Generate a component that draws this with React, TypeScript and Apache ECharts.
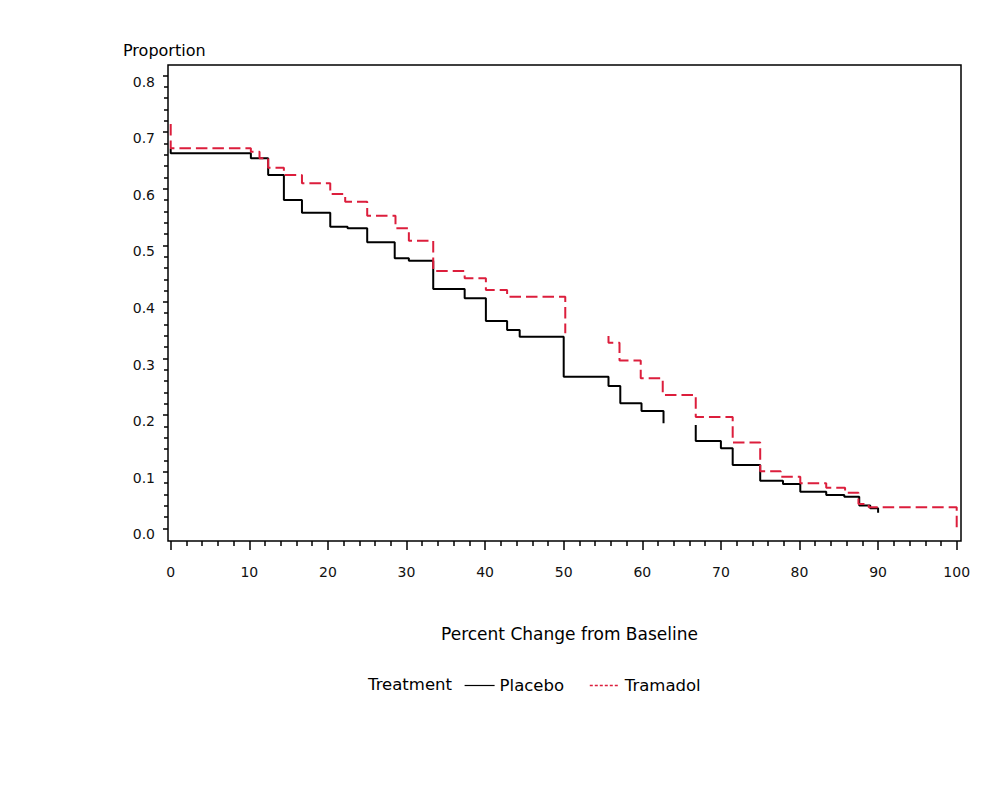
import React, { useEffect, useRef } from "react";
import * as echarts from "echarts";

// X ticks: 0..100 step 10; Y ticks: 0.0..0.8 step 0.1
const xMin = 0;
const xMax = 100;
const xStep = 10;
const yMin = 0;
const yMax = 0.8;
const yStep = 0.1;

// Step curves: each point starts a new level (null = gap in curve)
const placeboX = [0, 0, 10.2, 12.4, 14.4, 16.7, 20.3, 22.5, 25.0, 28.5, 30.3, 33.4, 37.4, 40.1, 42.8, 44.4, 50.0, 55.7, 57.2, 59.9, 62.7, 62.7, 66.8, 66.8, 70.0, 71.5, 75.0, 77.9, 80.1, 83.4, 85.7, 87.6, 89.0, 90.0];
const placeboY = [0.671, 0.6625, 0.6537, 0.6242, 0.58, 0.5576, 0.5329, 0.53, 0.5053, 0.477, 0.4728, 0.4228, 0.4064, 0.3663, 0.3504, 0.3385, 0.2678, 0.2514, 0.2208, 0.2072, 0.1855, null, 0.1825, 0.1542, 0.1413, 0.1118, 0.0841, 0.0783, 0.0647, 0.0588, 0.0558, 0.0403, 0.0353, 0.0276];

const tramadolX = [0, 0, 10.2, 11.3, 12.4, 14.4, 16.7, 20.3, 22.2, 25.0, 28.6, 30.3, 33.4, 37.4, 40.1, 42.8, 50.2, 50.2, 55.7, 55.7, 57.1, 59.8, 62.6, 66.8, 71.5, 75.0, 77.6, 80.1, 83.4, 85.8, 87.5, 88.8, 100];
const tramadolY = [0.7143, 0.6714, 0.6654, 0.6537, 0.6371, 0.6242, 0.6095, 0.5906, 0.577, 0.5523, 0.53, 0.5081, 0.4546, 0.4417, 0.421, 0.4092, 0.3445, null, 0.3398, 0.3279, 0.2965, 0.265, 0.2355, 0.1966, 0.1516, 0.1007, 0.0912, 0.0795, 0.0717, 0.0629, 0.0429, 0.0371, 0];

const seriesNames = ["Placebo", "Tramadol"];
const legendTitle = "Treatment";
const xAxisTitle = "Percent Change from Baseline";
const yAxisTitle = "Proportion";

const toPairs = (xs: number[], ys: (number | null)[]) =>
  xs.map((x, i) => (ys[i] === null ? [x, "-"] : [x, ys[i]]));

export default function App() {
  const ref = useRef<HTMLDivElement>(null);

  useEffect(() => {
    if (!ref.current) return;
    const chart = echarts.init(ref.current, undefined, { renderer: "svg" });
    const font = "DejaVu Sans";
    const option: any = {
      animation: false,
      backgroundColor: "#ffffff",
      grid: { left: 170.7, right: 43.3, top: 75.5, bottom: 271.7, containLabel: false },
      xAxis: {
        type: "value",
        min: xMin,
        max: xMax,
        interval: xStep,
        offset: 12.7,
        axisLine: { show: false, onZero: false },
        axisTick: { show: true, length: 9, lineStyle: { color: "#000", width: 1.5 } },
        minorTick: { show: true, splitNumber: 5, length: 5, lineStyle: { color: "#000", width: 1.5 } },
        splitLine: { show: false },
        minorSplitLine: { show: false },
        axisLabel: { margin: 24, fontFamily: font, fontSize: 14, color: "#111" },
      },
      yAxis: {
        type: "value",
        min: yMin,
        max: yMax,
        interval: yStep,
        offset: 2.7,
        axisLine: { show: false, onZero: false },
        axisTick: { show: true, length: 5, lineStyle: { color: "#000", width: 1.5 } },
        minorTick: { show: true, splitNumber: 5, length: 4, lineStyle: { color: "#000", width: 1.5 } },
        splitLine: { show: false },
        minorSplitLine: { show: false },
        axisLabel: {
          margin: 13,
          fontFamily: font,
          fontSize: 14,
          color: "#111",
          verticalAlign: "top",
          lineHeight: 12,
          formatter: (v: number) => v.toFixed(1),
        },
      },
      legend: {
        left: 464,
        top: 677,
        padding: 0,
        itemWidth: 30,
        itemHeight: 14,
        itemGap: 25,
        itemStyle: { opacity: 0 },
        textStyle: { fontFamily: font, fontSize: 16.5, color: "#000" },
        data: [
          { name: seriesNames[0], lineStyle: { width: 1.2 } },
          { name: seriesNames[1], lineStyle: { type: [3, 2], width: 1.5 } },
        ],
      },
      graphic: [
        {
          type: "rect",
          shape: { x: 168, y: 65, width: 793, height: 476 },
          style: { fill: "none", stroke: "#000", lineWidth: 1.5 },
          z: 100,
        },
        {
          type: "text",
          x: 123,
          y: 50.5,
          style: { text: yAxisTitle, fontFamily: font, fontSize: 16, fill: "#000", verticalAlign: "middle" },
        },
        {
          type: "text",
          x: 569.5,
          y: 634,
          style: { text: xAxisTitle, fontFamily: font, fontSize: 17, fill: "#000", align: "center", verticalAlign: "middle" },
        },
        {
          type: "text",
          x: 368,
          y: 684,
          style: { text: legendTitle, fontFamily: font, fontSize: 16.5, fill: "#000", verticalAlign: "middle" },
        },
      ],
      series: [
        {
          name: seriesNames[0],
          type: "line",
          step: "end",
          symbol: "none",
          connectNulls: false,
          lineStyle: { color: "#000", width: 2 },
          itemStyle: { color: "#000" },
          data: toPairs(placeboX, placeboY),
          z: 2,
        },
        {
          name: seriesNames[1],
          type: "line",
          step: "end",
          symbol: "none",
          connectNulls: false,
          lineStyle: { color: "#dc1e3c", width: 2, type: [11.5, 5] },
          itemStyle: { color: "#dc1e3c" },
          data: toPairs(tramadolX, tramadolY),
          z: 3,
        },
      ],
    };
    chart.setOption(option);
    return () => chart.dispose();
  }, []);

  return (
    <div
      ref={ref}
      style={{ position: "absolute", left: 0, top: 0, width: 1000, height: 800, background: "#fff" }}
    />
  );
}
